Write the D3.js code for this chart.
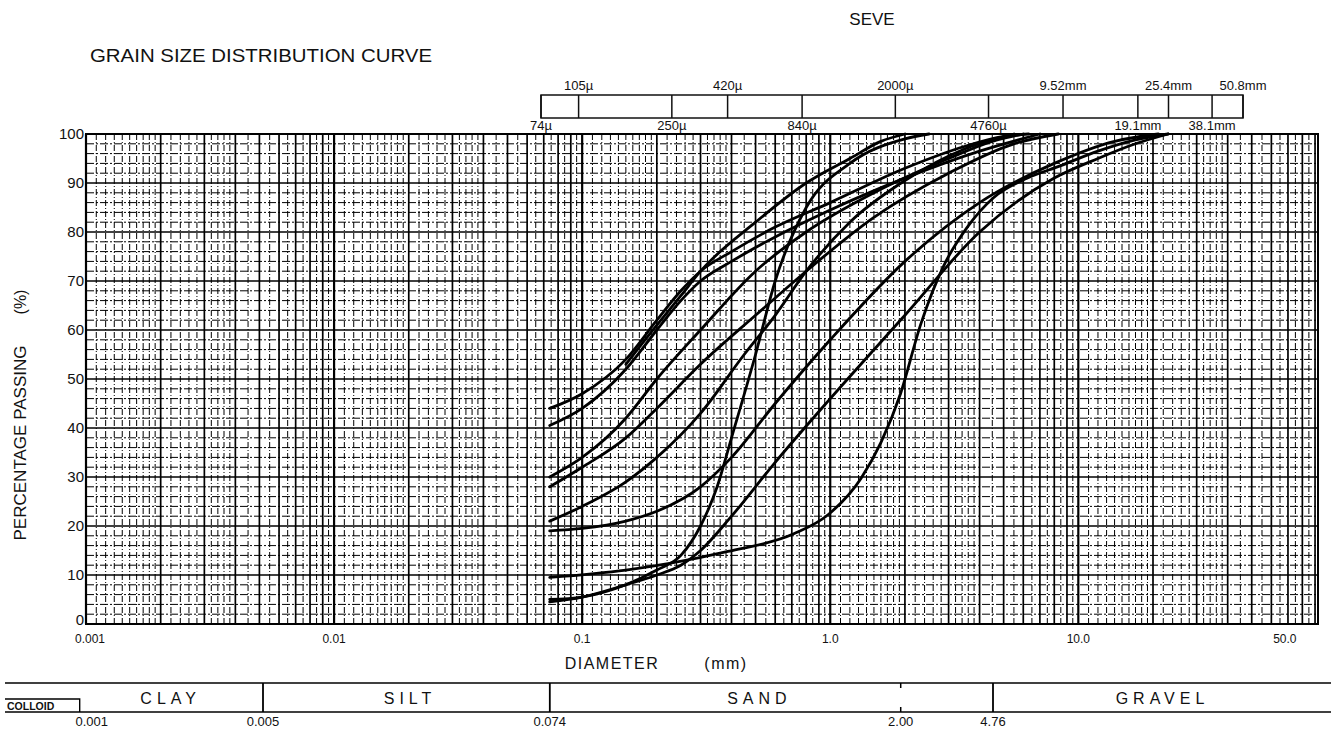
<!DOCTYPE html>
<html><head><meta charset="utf-8">
<script src="https://cdn.jsdelivr.net/npm/d3@7"></script>
<style>
body{margin:0;background:#fff}
text{font-family:"Liberation Sans Narrow","Liberation Sans",Arial,sans-serif;fill:#111}
</style>
</head><body>
<svg id="chart" width="1331" height="749"></svg>
<script>
// ---------- data ----------
const chartTitle = "GRAIN SIZE DISTRIBUTION CURVE";
const sieveTitle = "SEVE";
const xTitle = "DIAMETER";
const xUnit = "(mm)";
const yTitle = "PERCENTAGE PASSING";
const yUnit = "(%)";

const xTickValues = [0.001, 0.01, 0.1, 1, 10, 68];
const xTickLabels = ["0.001", "0.01", "0.1", "1.0", "10.0", "50.0"];
const yTickValues = [0, 10, 20, 30, 40, 50, 60, 70, 80, 90, 100];

const sieveTopSizes = [0.105, 0.42, 2.0, 9.52, 25.4, 50.8];
const sieveTopLabels = ["105\u00b5", "420\u00b5", "2000\u00b5", "9.52mm", "25.4mm", "50.8mm"];
const sieveBottomSizes = [0.074, 0.25, 0.84, 4.76, 19.1, 38.1];
const sieveBottomLabels = ["74\u00b5", "250\u00b5", "840\u00b5", "4760\u00b5", "19.1mm", "38.1mm"];

const bandBounds = [0.005, 0.074, 4.76];
const bandMinorBounds = [2.00];
const bandNames = ["CLAY", "SILT", "SAND", "GRAVEL"];
const bandNameCenters = [0.0021, 0.0199, 0.53, 23.4];
const bandTickValues = [0.001, 0.005, 0.074, 2.00, 4.76];
const bandTickLabels = ["0.001", "0.005", "0.074", "2.00", "4.76"];

// grain size curves: [diameter mm, percent passing]
const curveA = [[0.074,44],[0.1,47],[0.15,54],[0.2,62],[0.25,68],[0.3,72],[0.4,76],[0.6,81],[1,86],[2,93],[3.5,97.5],[5,99.5],[6.3,100]];
const curveB = [[0.074,40.5],[0.1,44],[0.15,52],[0.2,60],[0.25,66],[0.3,70],[0.4,74],[0.6,79],[1,84.5],[2,91],[4,96.5],[7,100]];
const curveJ = [[0.15,53],[0.2,61],[0.25,67],[0.3,72],[0.5,82],[0.8,90],[1.2,95],[1.6,98.5],[2.0,100]];
const curveC = [[0.074,30],[0.1,34],[0.15,42],[0.2,50],[0.3,60],[0.5,72],[0.8,80],[1.5,88],[3,95],[4.5,98.5],[6,100]];
const curveD = [[0.074,28],[0.1,32],[0.15,38],[0.2,44],[0.3,53],[0.5,63],[0.8,72],[1.5,83],[3,92],[5.5,98],[8.3,100]];
const curveE = [[0.074,21],[0.1,24],[0.15,29],[0.2,34],[0.3,43],[0.45,55],[0.6,63],[0.8,72],[1.2,82],[2,90.5],[3.5,97],[5.5,100]];
const curveF = [[0.074,19],[0.1,19.5],[0.15,21],[0.2,23],[0.3,28],[0.4,34],[0.6,45],[1,58],[2,74],[4,86],[8,94],[14,98.5],[21,100]];
const curveG = [[0.074,9.5],[0.15,11],[0.222,12.3],[0.387,14.8],[0.713,18.4],[0.98,22.3],[1.33,29.7],[1.6,37],[1.92,47],[2.31,61],[2.86,73],[3.57,81],[4.55,87],[6.24,91],[8.45,93.5],[12,96.5],[17,98.8],[23,100]];
const curveH = [[0.074,5],[0.1,5.5],[0.15,8],[0.2,11],[0.25,14],[0.3,20],[0.35,28],[0.4,38],[0.5,55],[0.6,70],[0.8,85],[1.2,94],[2,99],[2.5,100]];
const curveI = [[0.074,4.5],[0.1,5.5],[0.15,8],[0.2,10],[0.25,12],[0.3,15],[0.4,22],[0.6,33],[1,46],[2,63],[4,80],[8,91],[12,95],[17,98],[23,100]];
const curves = [curveA, curveB, curveJ, curveC, curveD, curveE, curveF, curveG, curveH, curveI];

// ---------- layout ----------
const svg = d3.select("#chart");
svg.append("rect").attr("width",1331).attr("height",749).attr("fill","#fff");

const x = d3.scaleLog().domain([0.001, 92.5]).range([86, 1318]);
const y = d3.scaleLinear().domain([0, 100]).range([624, 134]);
const sieveX = d3.scaleLog().domain([0.074, 50.8]).range([541, 1243]);
const bandX = d3.scaleLog().domain([0.005, 4.76]).range([263, 993]);

// title
svg.append("text").attr("x", 90).attr("y", 62).attr("font-size", 19)
  .attr("textLength", 342).attr("lengthAdjust","spacingAndGlyphs").text(chartTitle);
svg.append("text").attr("x", 872).attr("y", 25).attr("font-size", 17).attr("text-anchor","middle").text(sieveTitle);

// sieve box
const sb = svg.append("g");
const sTop = 95, sBot = 118;
sb.append("rect").attr("x", sieveX(0.074)).attr("y", sTop)
  .attr("width", sieveX(50.8) - sieveX(0.074)).attr("height", sBot - sTop)
  .attr("fill","none").attr("stroke","#111").attr("stroke-width",1.5);
sieveTopSizes.concat(sieveBottomSizes).forEach(s => {
  sb.append("line").attr("x1", sieveX(s)).attr("x2", sieveX(s)).attr("y1", sTop).attr("y2", sBot)
    .attr("stroke","#111").attr("stroke-width",1.5);
});
sieveTopSizes.forEach((s,i) => {
  sb.append("text").attr("x", sieveX(s)).attr("y", sTop - 5).attr("font-size", 13)
    .attr("text-anchor","middle").text(sieveTopLabels[i]);
});
sieveBottomSizes.forEach((s,i) => {
  sb.append("text").attr("x", sieveX(s)).attr("y", sBot + 12).attr("font-size", 13)
    .attr("text-anchor","middle").text(sieveBottomLabels[i]);
});

// grid
const grid = svg.append("g");
const decades = [0.001, 0.01, 0.1, 1, 10];
const minorMult = [];
for (let m = 1.1; m < 2; m += 0.1) minorMult.push(+m.toFixed(2));
for (let m = 2.2; m < 4; m += 0.2) minorMult.push(+m.toFixed(2));
for (let m = 4.5; m < 10; m += 0.5) minorMult.push(+m.toFixed(2));
const majorMult = [1,2,3,4,5,6,7,8,9];
decades.forEach(dec => {
  minorMult.forEach(m => {
    const v = dec * m;
    if (v > x.domain()[1] || Number.isInteger(m)) return;
    grid.append("line").attr("x1", x(v)).attr("x2", x(v)).attr("y1", y(100)).attr("y2", y(0))
      .attr("stroke","#000").attr("stroke-width",1).attr("stroke-dasharray","6,2,1,2");
  });
  majorMult.forEach(m => {
    const v = dec * m;
    if (v > x.domain()[1]) return;
    grid.append("line").attr("x1", x(v)).attr("x2", x(v)).attr("y1", y(100)).attr("y2", y(0))
      .attr("stroke","#000").attr("stroke-width", m === 1 ? 2.2 : 1.7);
  });
});
d3.range(0, 101, 2).forEach(p => {
  const major = p % 10 === 0;
  grid.append("line").attr("x1", x(0.001)).attr("x2", 1318).attr("y1", y(p)).attr("y2", y(p))
    .attr("stroke", "#000").attr("stroke-width", major ? 1.6 : 1)
    .attr("stroke-dasharray", major ? null : "8,2,2,2");
});
grid.append("rect").attr("x", 86).attr("y", y(100)).attr("width", 1318-86).attr("height", y(0)-y(100))
  .attr("fill","none").attr("stroke","#000").attr("stroke-width",2);

// axes labels
yTickValues.forEach(v => {
  svg.append("text").attr("x", 84).attr("y", y(v) + (v === 0 ? 1 : 5)).attr("font-size", 15)
    .attr("font-family","'DejaVu Sans',sans-serif").attr("text-anchor","end").text(v);
});
xTickValues.forEach((v,i) => {
  svg.append("text").attr("x", x(v) + (i === 0 ? 4 : 0)).attr("y", y(0) + 19).attr("font-size", 12)
    .attr("text-anchor","middle").text(xTickLabels[i]);
});
svg.append("text").attr("x", 612).attr("y", 669).attr("font-size", 16).attr("text-anchor","middle")
  .attr("letter-spacing", 1.5).text(xTitle);
svg.append("text").attr("x", 726).attr("y", 669).attr("font-size", 16).attr("text-anchor","middle")
  .attr("letter-spacing", 1.5).text(xUnit);
svg.append("text").attr("transform","translate(26,443) rotate(-90)").attr("font-size", 16)
  .attr("text-anchor","middle").attr("textLength", 195).attr("lengthAdjust","spacingAndGlyphs").text(yTitle);
svg.append("text").attr("transform","translate(26,302) rotate(-90)").attr("font-size", 16)
  .attr("text-anchor","middle").text(yUnit);

// curves
const line = d3.line().x(d => x(d[0])).y(d => y(d[1])).curve(d3.curveMonotoneX);
svg.append("g").selectAll("path").data(curves).join("path")
  .attr("d", line).attr("fill","none").attr("stroke","#000").attr("stroke-width",2.8)
  .attr("stroke-linecap","round");

// soil classification band
const band = svg.append("g");
const bTop = 683, bBot = 712;
band.append("line").attr("x1", 5).attr("x2", 1331).attr("y1", bTop).attr("y2", bTop).attr("stroke","#000").attr("stroke-width",1.6);
band.append("line").attr("x1", 5).attr("x2", 1331).attr("y1", bBot).attr("y2", bBot).attr("stroke","#000").attr("stroke-width",1.6);
bandBounds.forEach(b => {
  band.append("line").attr("x1", bandX(b)).attr("x2", bandX(b)).attr("y1", bTop).attr("y2", bBot)
    .attr("stroke","#000").attr("stroke-width",1.8);
});
bandMinorBounds.forEach(b => {
  band.append("line").attr("x1", bandX(b)).attr("x2", bandX(b)).attr("y1", bTop).attr("y2", bTop + 5).attr("stroke","#000").attr("stroke-width",1.5);
  band.append("line").attr("x1", bandX(b)).attr("x2", bandX(b)).attr("y1", bBot - 5).attr("y2", bBot).attr("stroke","#000").attr("stroke-width",1.5);
});
bandNames.forEach((n,i) => {
  band.append("text").attr("x", bandX(bandNameCenters[i])).attr("y", 704).attr("font-size", 16)
    .attr("letter-spacing", 5).attr("text-anchor","middle").text(n);
});
bandTickValues.forEach((v,i) => {
  band.append("text").attr("x", bandX(v)).attr("y", 726).attr("font-size", 13)
    .attr("text-anchor","middle").text(bandTickLabels[i]);
});
// colloid box
band.append("path").attr("d", `M5,699 H${bandX(0.001)-12} V${bBot}`).attr("fill","none").attr("stroke","#000").attr("stroke-width",1.4);
band.append("text").attr("x", 7).attr("y", 710).attr("font-size", 10.5).attr("font-weight","bold").text("COLLOID");
</script>
</body></html>
